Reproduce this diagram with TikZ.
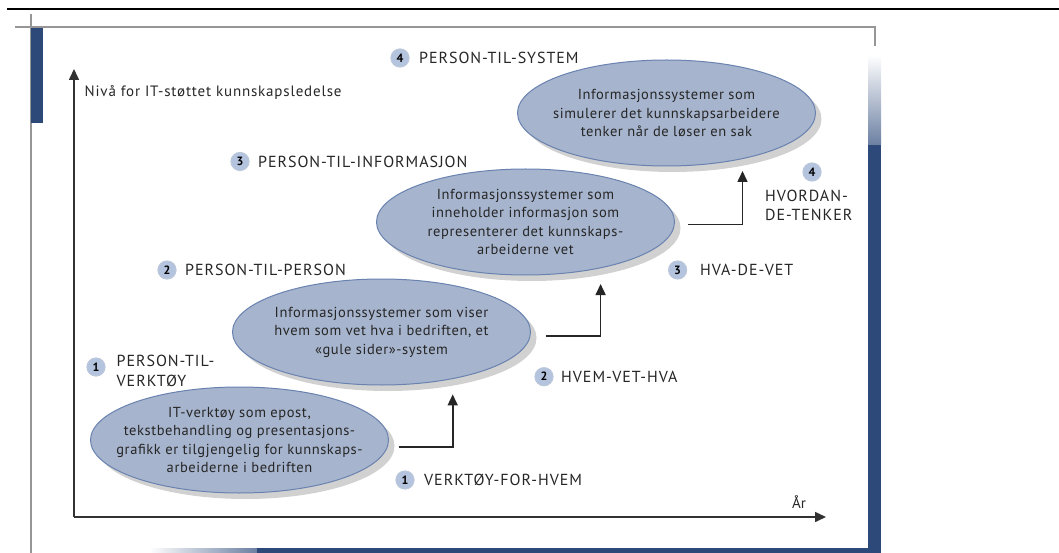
\documentclass[tikz,border=0pt]{standalone}
\usepackage{fontspec}
\setmainfont{PT Sans}
\usetikzlibrary{arrows.meta,shapes.geometric,shadows}

\definecolor{barblue}{RGB}{44,73,122}
\definecolor{ellfill}{RGB}{166,180,205}
\definecolor{elldraw}{RGB}{105,130,175}
\definecolor{badgefill}{RGB}{180,195,222}
\definecolor{framegray}{RGB}{150,150,150}
\definecolor{axisgray}{RGB}{50,50,50}

\tikzset{
  stage/.style={ellipse, draw=elldraw, line width=1pt, fill=ellfill,
    minimum width=298pt, minimum height=106pt, inner xsep=-50pt, inner ysep=0pt, align=center,
    font=\fontsize{14.5}{18.5}\selectfont\addfontfeature{LetterSpace=4}, text=black!85,
    drop shadow={shadow xshift=6pt, shadow yshift=-6pt, opacity=0.3, fill=black!60}},
  badge/.style={circle, fill=badgefill, draw=elldraw!45, line width=1.2pt,
    minimum size=18pt, inner sep=0pt, font=\bfseries\fontsize{12}{12}\selectfont},
  tagtext/.style={anchor=west, inner sep=0pt, align=left, text=black!85,
    font=\fontsize{16}{19.5}\selectfont\addfontfeature{LetterSpace=6}},
  connect/.style={-{Triangle[length=11pt,width=10pt]}, line width=1.6pt, black!85},
  axisline/.style={-{Triangle[length=11pt,width=10pt]}, line width=1.6pt, axisgray},
}

\begin{document}
\begin{tikzpicture}[x=1pt,y=-1pt]
  \useasboundingbox (0,0) rectangle (1059,553);

  % frame
  \draw[black, line width=2pt] (7,9.5) -- (1059,9.5);
  \draw[framegray, line width=2pt] (31,14) -- (31,553);
  \draw[framegray, line width=2pt] (15,27.5) -- (875,27.5) -- (875,46);
  \fill[barblue] (31,28) rectangle (43,123);
  \shade[top color=white, bottom color=barblue!70] (868,55) rectangle (881,145);
  \fill[barblue] (868,145) rectangle (881,553);
  \shade[left color=white, right color=barblue!70] (149,548) rectangle (257,553);
  \fill[barblue] (257,548) rectangle (881,553);

  % axes
  \coordinate (origin) at (74,517);
  \coordinate (ytip) at (74,69);
  \coordinate (xtip) at (826,517);
  \draw[axisline] (origin) -- (ytip);
  \draw[axisline] (origin) -- (xtip);
  \node[tagtext, font=\fontsize{15}{16}\selectfont\addfontfeature{LetterSpace=5.5}] (ylab) at (84.5,92) {Nivå for IT-støttet kunnskapsledelse};
  \node[tagtext, font=\fontsize{15}{16}\selectfont, anchor=center] (xlab) at (799,502) {År};

  % stages
  \node[stage] (tools) at (239.5,440) {IT-verktøy som epost,\\tekstbehandling og presentasjons-\\grafikk er tilgjengelig for kunnskaps-\\arbeiderne i bedriften};
  \node[stage] (whowhat) at (381.5,332) {Informasjonssystemer som viser\\hvem som vet hva i bedriften, et\\«gule sider»-system};
  \node[stage] (whatknow) at (525.5,222) {Informasjonssystemer som\\inneholder informasjon som\\representerer det kunnskaps-\\arbeiderne vet};
  \node[stage] (howthink) at (666.5,113) {Informasjonssystemer som\\simulerer det kunnskapsarbeidere\\tenker når de løser en sak};

  % levels
  \node[badge] (b1) at (96,367) {1};
  \node[tagtext] (p1) at (116.5,371) {PERSON-TIL-\\VERKTØY};
  \node[badge] (b2) at (167,270) {2};
  \node[tagtext] (p2) at (185,270) {PERSON-TIL-PERSON};
  \node[badge] (b3) at (240,161.5) {3};
  \node[tagtext] (p3) at (258,161.5) {PERSON-TIL-INFORMASJON};
  \node[badge] (b4) at (400,58) {4};
  \node[tagtext] (p4) at (419,58) {PERSON-TIL-SYSTEM};

  % steps
  \node[badge] (s1) at (405,480) {1};
  \node[tagtext] (t1) at (424,480) {VERKTØY-FOR-HVEM};
  \node[badge] (s2) at (544,376.7) {2};
  \node[tagtext] (t2) at (561,376.7) {HVEM-VET-HVA};
  \node[badge] (s3) at (677.6,270) {3};
  \node[tagtext] (t3) at (700,270) {HVA-DE-VET};
  \node[badge] (s4) at (812,172) {4};
  \node[tagtext] (t4) at (765,205.5) {HVORDAN-\\DE-TENKER};

  % connectors
  \coordinate (c1s) at (398.6,447);
  \coordinate (c1e) at (452.7,394.4);
  \coordinate (c2s) at (546,336);
  \coordinate (c2e) at (600.6,284);
  \coordinate (c3s) at (688,224.7);
  \coordinate (c3e) at (742.5,171);
  \draw[connect] (c1s) -| (c1e);
  \draw[connect] (c2s) -| (c2e);
  \draw[connect] (c3s) -| (c3e);
\end{tikzpicture}
\end{document}
